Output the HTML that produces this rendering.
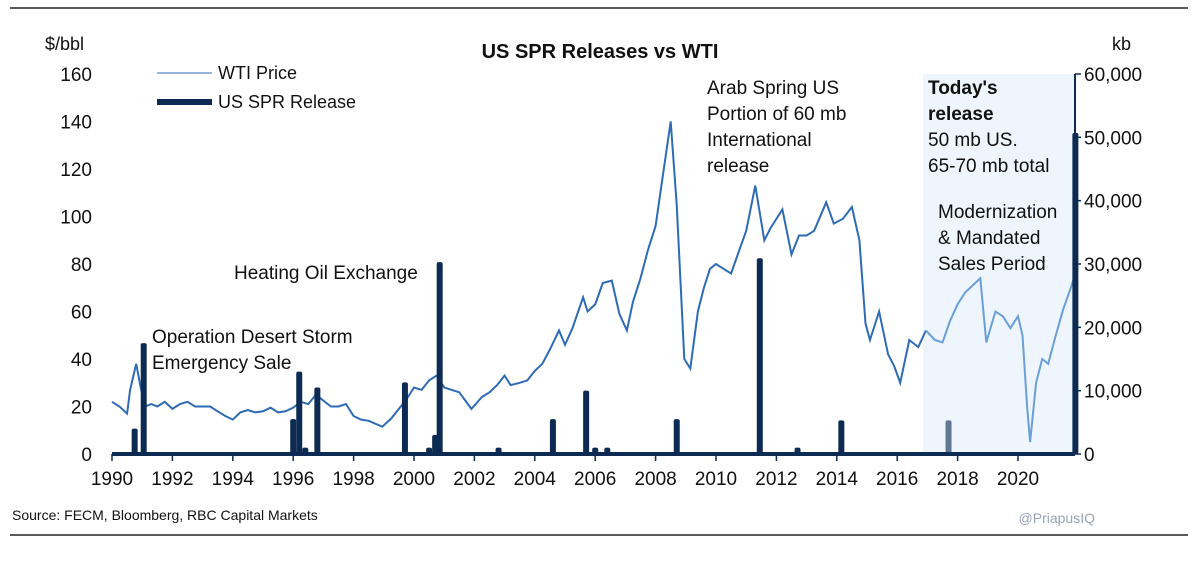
<!DOCTYPE html>
<html><head><meta charset="utf-8">
<style>
body{margin:0;background:#fff;font-family:"Liberation Sans",sans-serif;}
svg text{font-family:"Liberation Sans",sans-serif;}
</style></head>
<body>
<svg id="c" width="1200" height="562" xmlns="http://www.w3.org/2000/svg">
<line x1="10" y1="8" x2="1188" y2="8" stroke="#222" stroke-width="1.5"/>
<line x1="10" y1="535" x2="1188" y2="535" stroke="#222" stroke-width="1.5"/>
<rect x="923" y="74" width="152" height="380" fill="#eef5fc"/>
<text x="600" y="58" text-anchor="middle" font-size="20" font-weight="bold" fill="#111">US SPR Releases vs WTI</text>
<text x="45" y="50" font-size="18" fill="#111">$/bbl</text>
<text x="1112" y="50" font-size="18" fill="#111">kb</text>
<g id="axes"></g>
<g id="line"></g>
<g id="bars"></g>
<line x1="112" y1="454" x2="1075" y2="454" stroke="#0d2b52" stroke-width="4"/>
<line x1="1075" y1="74" x2="1075" y2="454" stroke="#0d2b52" stroke-width="2"/>
<g>
<line x1="157" y1="73" x2="212" y2="73" stroke="#2e6bb5" stroke-width="1"/>
<text x="218" y="79" font-size="18" fill="#111">WTI Price</text>
<line x1="157" y1="102" x2="212" y2="102" stroke="#0d2b52" stroke-width="6"/>
<text x="218" y="108" font-size="18" fill="#111">US SPR Release</text>
</g>
<g font-size="19" fill="#111">
<text x="152" y="343"><tspan x="152">Operation Desert Storm</tspan><tspan x="152" dy="26">Emergency Sale</tspan></text>
<text x="234" y="279">Heating Oil Exchange</text>
<text x="707" y="94"><tspan x="707">Arab Spring US</tspan><tspan x="707" dy="26">Portion of 60 mb</tspan><tspan x="707" dy="26">International</tspan><tspan x="707" dy="26">release</tspan></text>
<text x="928" y="94"><tspan x="928" font-weight="bold">Today's</tspan><tspan x="928" dy="26" font-weight="bold">release</tspan><tspan x="928" dy="26">50 mb US.</tspan><tspan x="928" dy="26">65-70 mb total</tspan></text>
<text x="938" y="218"><tspan x="938">Modernization</tspan><tspan x="938" dy="26">&amp; Mandated</tspan><tspan x="938" dy="26">Sales Period</tspan></text>
</g>
<text x="12" y="520" font-size="14" fill="#111">Source: FECM, Bloomberg, RBC Capital Markets</text>
<text x="1095" y="523" text-anchor="end" font-size="14" fill="#9aa3b5" font-family="Liberation Serif">@PriapusIQ</text>
</svg>
<script>
const leftTicks=[0,20,40,60,80,100,120,140,160];
const rightTicks=["0","10,000","20,000","30,000","40,000","50,000","60,000"];
const yearTicks=[1990,1992,1994,1996,1998,2000,2002,2004,2006,2008,2010,2012,2014,2016,2018,2020];
const wtiDates=[1990,1990.25,1990.5,1990.6,1990.8,1990.95,1991.1,1991.3,1991.5,1991.75,1992,1992.25,1992.5,1992.75,1993,1993.25,1993.5,1993.75,1994,1994.25,1994.5,1994.75,1995,1995.25,1995.5,1995.75,1996,1996.25,1996.5,1996.75,1997,1997.25,1997.5,1997.75,1998,1998.25,1998.5,1998.95,1999.25,1999.5,1999.75,2000,2000.25,2000.5,2000.75,2001,2001.25,2001.5,2001.9,2002.25,2002.5,2002.75,2003,2003.2,2003.5,2003.75,2004,2004.25,2004.5,2004.8,2005,2005.25,2005.6,2005.75,2006,2006.25,2006.55,2006.8,2007.05,2007.25,2007.5,2007.75,2008,2008.25,2008.5,2008.7,2008.95,2009.15,2009.4,2009.6,2009.8,2010,2010.25,2010.5,2010.75,2011,2011.3,2011.6,2011.8,2012.2,2012.5,2012.75,2013,2013.25,2013.65,2013.9,2014.2,2014.5,2014.75,2014.95,2015.1,2015.4,2015.7,2015.9,2016.1,2016.4,2016.7,2016.95,2017.25,2017.5,2017.75,2018,2018.25,2018.75,2018.95,2019.25,2019.5,2019.75,2020,2020.15,2020.3,2020.4,2020.6,2020.8,2021,2021.25,2021.5,2021.75,2021.9];
const wtiValues=[22,20,17,27,38,28,20,21,20,22,19,21,22,20,20,20,18,16,14.5,17.5,18.5,17.5,18,19.5,17.5,18,19.5,22,21,25,22.5,20,20,21,16,14.5,14,11.5,15,19,23,28,27,31,33,28,27,26,19,24,26,29,33,29,30,31,35,38,44,52,46,53,66,60,63,72,73,59,52,64,74,86,96,118,140,105,40,36,60,70,78,80,78,76,85,94,113,90,95,103,84,92,92,94,106,97,99,104,90,55,48,60,42,37,30,48,45,52,48,47,56,63,68,74,47,60,58,53,58,50,20,5,30,40,38,50,61,70,76,84];
const barDates=[1990.75,1991.05,1996.0,1996.2,1996.4,1996.8,1999.7,2000.5,2000.7,2000.85,2002.8,2004.6,2005.7,2006.0,2006.4,2008.7,2011.45,2012.7,2014.15,2017.7,2021.9];
const barValues=[4000,17500,5500,13000,1000,10500,11300,1000,3000,30300,1000,5500,10000,1000,1000,5500,30900,1000,5300,5300,50700];
const NS="http://www.w3.org/2000/svg";
const X=t=>112+(t-1990)*30.2;
const YL=v=>454-v*380/160;
const YR=v=>454-v*380/60000;
function el(tag,attrs,parent){const e=document.createElementNS(NS,tag);for(const k in attrs)e.setAttribute(k,attrs[k]);parent.appendChild(e);return e;}
const ax=document.getElementById('axes');
leftTicks.forEach(v=>{
 const t=el('text',{x:92,y:YL(v)+7,'text-anchor':'end','font-size':19,fill:'#111'},ax);t.textContent=v;
 
 
});
rightTicks.forEach((s,i)=>{
 const y=YR(i*10000);
 const t=el('text',{x:1084,y:y+7,'font-size':19,fill:'#111'},ax);t.textContent=s;
 
 
 const k=el('line',{x1:1075,x2:1081,y1:y,y2:y,stroke:'#0d2b52','stroke-width':1.5},ax);
 
 
});
yearTicks.forEach(yr=>{
 const x=X(yr);
 const k=el('line',{x1:x,x2:x,y1:454,y2:461,stroke:'#0d2b52','stroke-width':1.5},ax);
 
 
 const t=el('text',{x:x,y:485,'text-anchor':'middle','font-size':19,fill:'#111'},ax);t.textContent=yr;
 
 
});
const lg=document.getElementById('line');
let d1='',d2='';
wtiDates.forEach((t,i)=>{
 const p=X(t).toFixed(1)+','+YL(wtiValues[i]).toFixed(1);
 if(t<=2016.95){d1+=(d1?'L':'M')+p;}
 if(t>=2016.95){d2+=(d2?'L':'M')+p;}
});
const l1=el('path',{d:d1,fill:'none',stroke:'#2e6bb5','stroke-width':2},lg);


const l2=el('path',{d:d2,fill:'none',stroke:'#6a9fd8','stroke-width':2},lg);


const bg=document.getElementById('bars');
barDates.forEach((t,i)=>{
 const y=YR(barValues[i]);
 const b=el('rect',{x:X(t)-3,y:y,width:6,height:454-y,rx:2,fill:(t>2017&&t<2021)?'#607890':'#0d2b52'},bg);
 
 
});
</script>
</body></html>
